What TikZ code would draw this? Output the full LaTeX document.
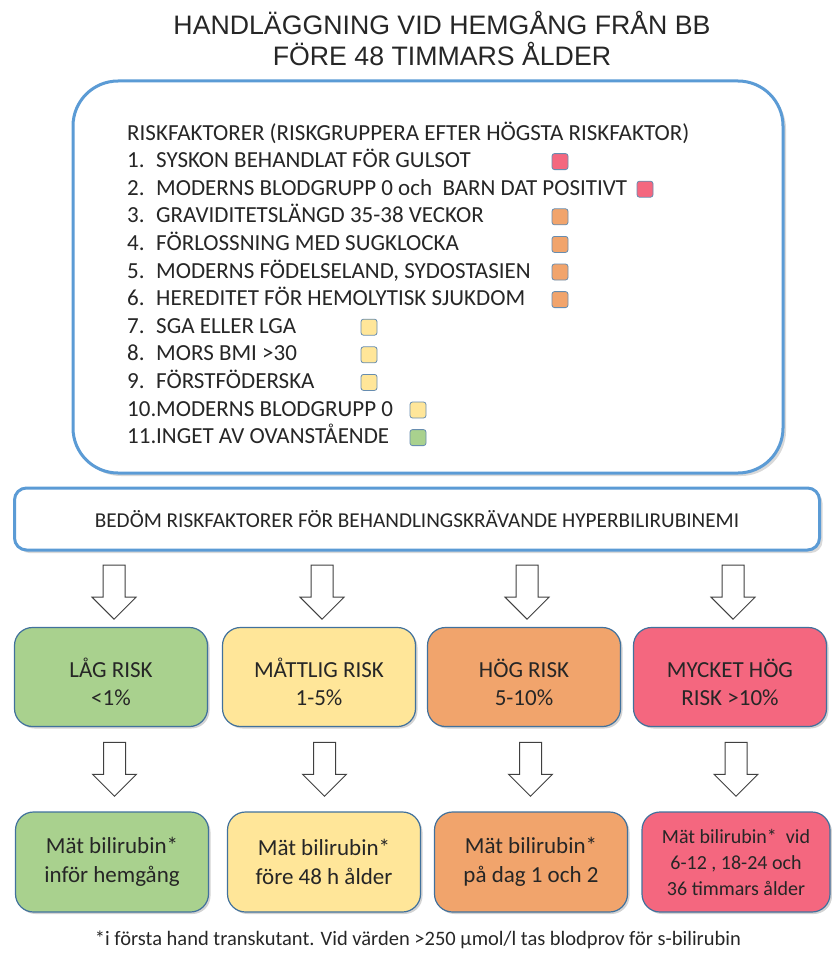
\documentclass[tikz,border=0pt]{standalone}
\usepackage{fontspec}
\setmainfont{Carlito}
\newfontfamily\titlefont{Liberation Sans}
\usetikzlibrary{shadows,calc}

\definecolor{frameblue}{HTML}{5B9BD5}
\definecolor{edgeblue}{HTML}{41719C}
\definecolor{lowgreen}{HTML}{A9D18E}
\definecolor{midyellow}{HTML}{FFE699}
\definecolor{highorange}{HTML}{F1A46C}
\definecolor{toppink}{HTML}{F4677F}
\definecolor{inktext}{HTML}{262626}

\newcommand{\lowstrut}{\rule{0pt}{30pt}}

\tikzset{
  hollowarrow/.pic={
    \draw[draw=black!75, line width=1pt, fill=white, line join=miter]
      (-11,-27) -- (11,-27) -- (11,5) -- (22,5) -- (0,27) -- (-22,5) -- (-11,5) -- cycle;
  }
}

\begin{document}
\begin{tikzpicture}[x=1pt, y=-1pt, text=inktext,
  bigframe/.style={draw=frameblue, line width=3pt, fill=white, rounded corners=45pt,
    drop shadow={shadow xshift=3pt, shadow yshift=-3pt, opacity=.3}},
  bedomframe/.style={draw=frameblue, line width=3pt, fill=white, rounded corners=12pt,
    drop shadow={shadow xshift=3pt, shadow yshift=-3pt, opacity=.3}},
  riskbox/.style={draw=edgeblue, line width=1.2pt, rounded corners=18pt,
    minimum width=193pt, minimum height=99pt, align=center,
    font=\fontsize{23}{28}\selectfont,
    drop shadow={shadow xshift=2pt, shadow yshift=-2pt, opacity=.35}},
  matbox/.style={riskbox, minimum height=100pt, font=\fontsize{23}{29}\selectfont},
  listtext/.style={anchor=base west, inner sep=0pt, font=\fontsize{23}{27}\selectfont},
  colorsquare/.style={draw=edgeblue!80, line width=.8pt, rounded corners=2.5pt,
    minimum size=16pt, inner sep=0pt}]
\useasboundingbox (0,0) rectangle (831,955);

% rubrik
\node[align=center, font=\titlefont\fontsize{26.7}{31}\selectfont] (rubrik) at (442,38)
  {HANDLÄGGNING VID HEMGÅNG FRÅN BB\\FÖRE 48 TIMMARS ÅLDER};

% riskfaktorer
\node[bigframe, minimum width=710pt, minimum height=392pt] (riskram) at (428,277) {};
\node[listtext] (rubriklista) at (127,140) {RISKFAKTORER (RISKGRUPPERA EFTER HÖGSTA RISKFAKTOR)};
\foreach \nr/\txt/\col/\sx [count=\i] in {
    1./SYSKON BEHANDLAT FÖR GULSOT/toppink/560,
    2./MODERNS BLODGRUPP 0 och\ \ BARN DAT POSITIVT/toppink/645,
    3./GRAVIDITETSLÄNGD\ 35-38 VECKOR/highorange/560,
    4./FÖRLOSSNING MED SUGKLOCKA/highorange/560,
    5./{MODERNS FÖDELSELAND, SYDOSTASIEN}/highorange/560,
    6./HEREDITET FÖR HEMOLYTISK SJUKDOM/highorange/560,
    7./SGA ELLER LGA/midyellow/369,
    8./MORS BMI >30/midyellow/369,
    9./FÖRSTFÖDERSKA/midyellow/369,
    10./MODERNS BLODGRUPP 0/midyellow/418,
    11./INGET AV OVANSTÅENDE/lowgreen/418} {
  \node[listtext] (nr\i) at (127,{140+27.6*\i}) {\nr};
  \node[listtext] (rad\i) at (156,{140+27.6*\i}) {\txt};
  \node[colorsquare, fill=\col] (ruta\i) at (\sx,{134+27.6*\i}) {};
}

% bedomning
\node[bedomframe, minimum width=805pt, minimum height=62pt,
  font=\fontsize{21.2}{25}\selectfont] (bedom) at (417,519)
  {BEDÖM RISKFAKTORER FÖR BEHANDLINGSKRÄVANDE HYPERBILIRUBINEMI};

% riskgrupper
\node[riskbox, fill=lowgreen] (risklag) at (111,677) {\lowstrut LÅG RISK\\<1\%};
\node[riskbox, fill=midyellow] (riskmatt) at (319,677) {\lowstrut MÅTTLIG RISK\\1-5\%};
\node[riskbox, fill=highorange] (riskhog) at (524,677) {\lowstrut HÖG RISK\\5-10\%};
\node[riskbox, fill=toppink] (riskmyck) at (730,677) {\lowstrut MYCKET HÖG\\RISK >10\%};

% matningar
\node[matbox, fill=lowgreen] (matlag) at (112,862) {Mät bilirubin*\\inför hemgång};
\node[matbox, fill=midyellow] (matmatt) at (324,862) {Mät bilirubin*\\före 48 h ålder};
\node[matbox, fill=highorange] (mathog) at (531,862) {Mät bilirubin*\\på dag 1 och 2};
\node[matbox, fill=toppink, minimum width=188pt, font=\fontsize{20}{26}\selectfont]
  (matmyck) at (736,862) {Mät bilirubin*\ \ vid\\6-12 , 18-24 och\\36 timmars ålder};

% pilar
\foreach \nm in {lag, matt, hog, myck} {
  \pic at ($(risk\nm.north)!.5!(risk\nm.north |- bedom.south)+(3,3)$) {hollowarrow};
  \pic at ($(risk\nm.south)!.5!(mat\nm.north)+(3,0)$) {hollowarrow};
}

% fotnot
\node[font=\fontsize{20.5}{24}\selectfont] (fotnot) at (418,940)
  {*i första hand transkutant. Vid värden >250 µmol/l tas blodprov för s-bilirubin};
\end{tikzpicture}
\end{document}
